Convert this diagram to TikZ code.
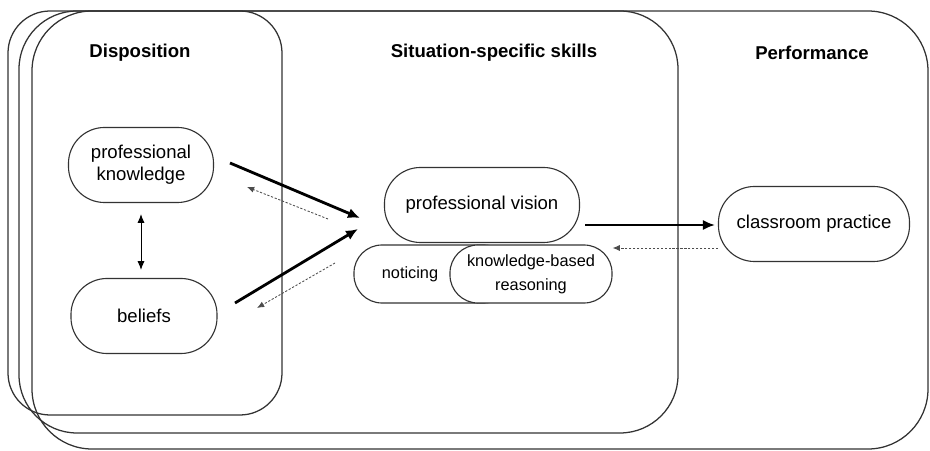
\documentclass[tikz,border=0pt]{standalone}
\usepackage{fontspec}
\setmainfont{Liberation Sans}
\usetikzlibrary{arrows.meta}

\begin{document}
\begin{tikzpicture}[x=0.025cm, y=-0.025cm, >=latex,
	frame/.style={draw=black!80, line width=0.9pt},
	box/.style={draw=black!80, line width=0.8pt, rounded corners=0.9cm,
		minimum height=1.875cm, align=center,
		font=\fontsize{13.2}{15.6}\selectfont},
	small/.style={box, fill=white, rounded corners=0.7cm, minimum height=1.45cm,
		font=\fontsize{11.6}{17}\selectfont},
	title/.style={font=\bfseries\fontsize{13.2}{15.6}\selectfont},
	push/.style={->, line width=2pt, >={Latex[length=0.3cm,width=0.26cm]}},
	back/.style={->, black!70, line width=0.6pt, dash pattern=on 1.6pt off 1.2pt,
		>={Latex[length=0.18cm,width=0.15cm]}}]
				\useasboundingbox (0,0) rectangle (930,451);
				% stacked frames
				\foreach \l/\r/\b/\rad in {8/282/415/1.05, 19/678/433/1.45, 32/928/449/1.5}
					{
						\draw[frame, rounded corners=\rad cm] (\l,11) rectangle (\r,\b);
					}
				\node[title] (dis) at (140,53) {Disposition};
				\node[title] (sit) at (494,53) {Situation-specific skills};
				\node[title] (perf) at (812,53) {Performance};

				\node[box, minimum width=3.625cm] (pk) at (141,165) {professional\\knowledge};
				\node[box, minimum width=3.65cm] (bel) at (144,316) {beliefs};
				\node[box, minimum width=4.875cm] (pv) at (482,205) {professional vision};
				\node[box, minimum width=4.775cm] (cp) at (814,224) {classroom practice};
				\node[small, minimum width=3.95cm] (noti) at (433,274) {noticing\hspace*{1.15cm}};
				\node[small, minimum width=4.05cm] (kbr) at (531,274) {knowledge-based\\reasoning};

				\draw[<->, line width=0.7pt, >={Latex[length=0.22cm,width=0.18cm]},
					shorten <=0.275cm, shorten >=0.2cm] (pk.south) -- (pk.south |- bel.north);

				\coordinate (k1) at (230,163);
				\coordinate (v1) at (360,218);
				\coordinate (b1) at (235,303);
				\coordinate (v2) at (358,229);
				\coordinate (v3) at (328,219);
				\coordinate (k2) at (247,187);
				\coordinate (v4) at (335,263);
				\coordinate (b2) at (257,308);
				\coordinate (v5) at (585,225);
				\coordinate (c1) at (718,248);

				\draw[push] (k1) -- (v1);
				\draw[push] (b1) -- (v2);
				\draw[back] (v3) -- (k2);
				\draw[back] (v4) -- (b2);
				\draw[push, shorten >=0.075cm] (v5) -- (v5 -| cp.west);
				\draw[back] (c1) -- (c1 -| kbr.east);
			\end{tikzpicture}
\end{document}
